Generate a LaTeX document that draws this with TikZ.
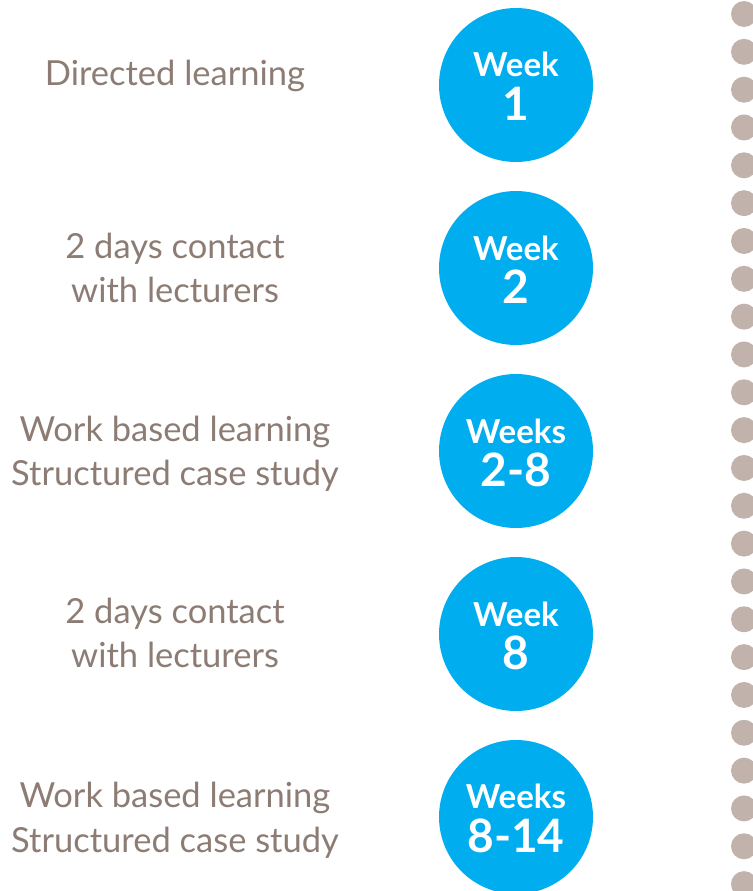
\documentclass[tikz,border=0pt]{standalone}
\usepackage{fontspec}
\setmainfont{Lato}
\definecolor{wkblue}{HTML}{00AEEF}
\definecolor{lbltxt}{HTML}{8C7C74}
\definecolor{dotc}{HTML}{C1B3AC}
\begin{document}
\begin{tikzpicture}[x=1pt,y=-1pt,
  wkcircle/.style={circle,fill=wkblue,minimum size=154pt,inner sep=0pt},
  wkword/.style={anchor=base,text=white,font=\fontsize{33}{33}\selectfont\bfseries,inner sep=0pt},
  wknum/.style={anchor=base,text=white,font=\fontsize{46}{46}\selectfont\bfseries,inner sep=0pt},
  lbl/.style={anchor=base,text=lbltxt,font=\fontsize{34.5}{34.5}\selectfont,inner sep=0pt}]
\useasboundingbox (0,0) rectangle (752,891);
% dots
\foreach \i in {0,...,23}{
  \fill[dotc] (744,{14+\i*37.83}) circle (13);
}
% circles
\node[wkcircle] (c1) at (516,85) {};
\node[wkcircle] (c2) at (516,268) {};
\node[wkcircle] (c3) at (516,451) {};
\node[wkcircle] (c4) at (516,634) {};
\node[wkcircle] (c5) at (516,817) {};
\node[wkword] (w1) at (516,77) {Week};
\node[wknum] (n1) at (516,120) {1};
\node[wkword] (w2) at (516,260) {Week};
\node[wknum] (n2) at (516,303) {2};
\node[wkword] (w3) at (516,443) {Weeks};
\node[wknum] (n3) at (516,486) {2-8};
\node[wkword] (w4) at (516,626) {Week};
\node[wknum] (n4) at (516,669) {8};
\node[wkword] (w5) at (516,808) {Weeks};
\node[wknum] (n5) at (516,852) {8-14};
% labels
\node[lbl] (l1) at (175,85) {Directed learning};
\node[lbl] (l2a) at (175,258) {2 days contact};
\node[lbl] (l2b) at (175,302) {with lecturers};
\node[lbl] (l3a) at (175,441) {Work based learning};
\node[lbl] (l3b) at (175,485) {Structured case study};
\node[lbl] (l4a) at (175,623) {2 days contact};
\node[lbl] (l4b) at (175,667) {with lecturers};
\node[lbl] (l5a) at (175,807) {Work based learning};
\node[lbl] (l5b) at (175,852) {Structured case study};
\end{tikzpicture}
\end{document}
